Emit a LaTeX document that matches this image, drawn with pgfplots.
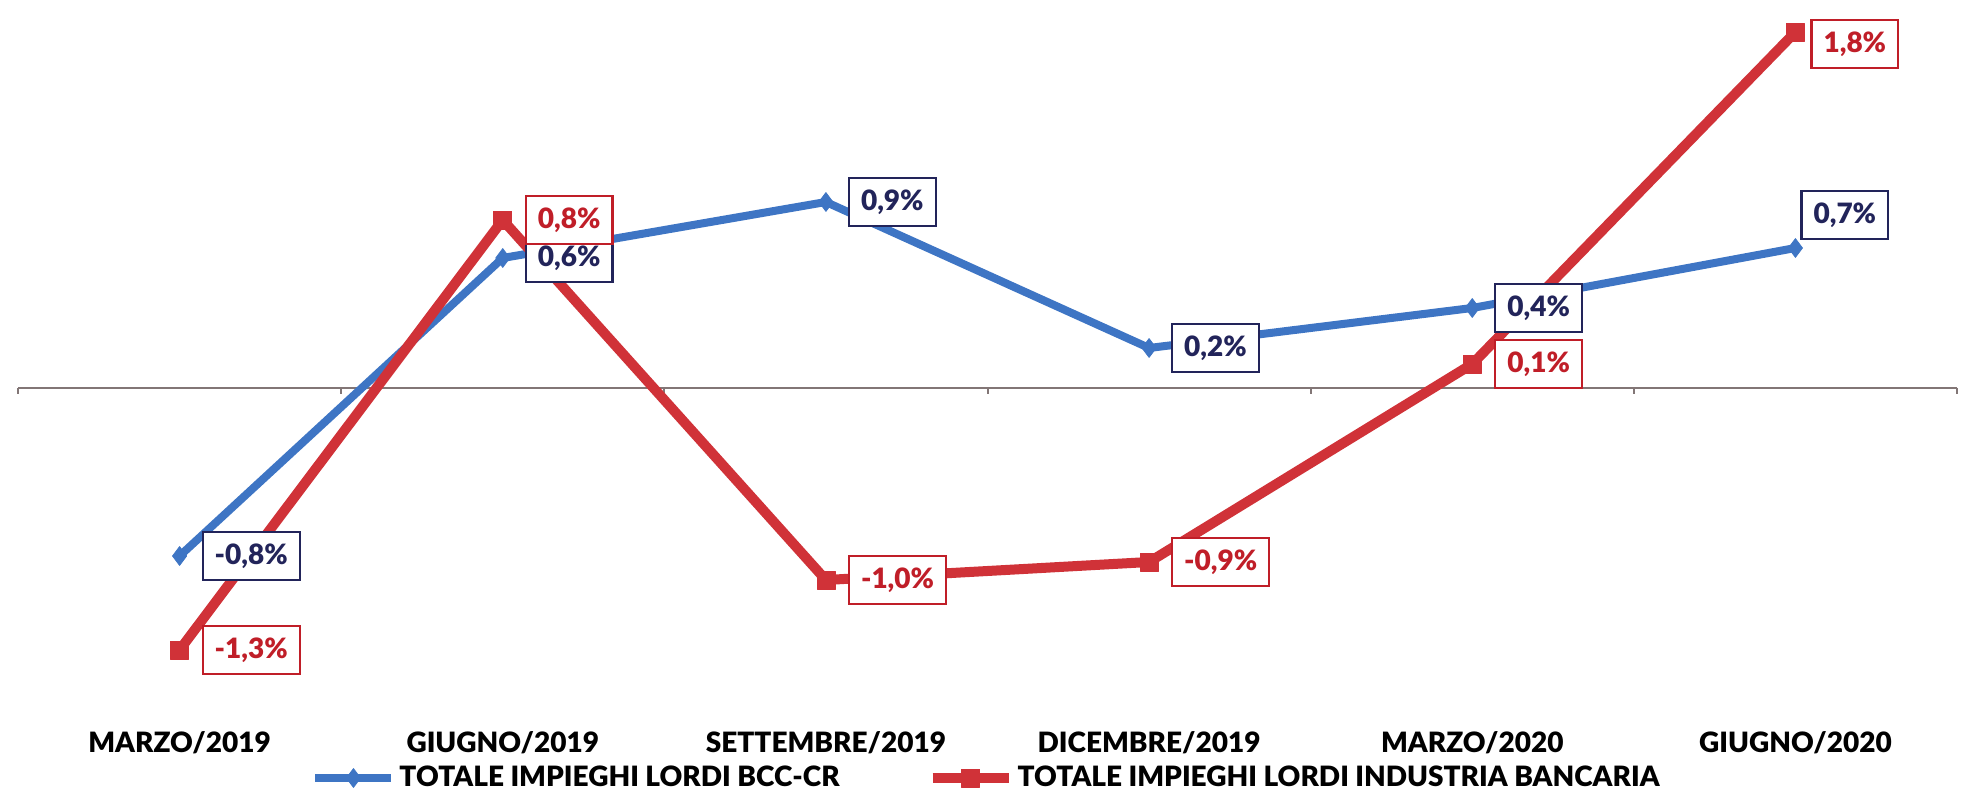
\documentclass[border=0pt]{standalone}
\usepackage{fontspec}
\setmainfont{Lato}[BoldFont={Lato Black}]
\usepackage{pgfplots}
\pgfplotsset{compat=1.18}
\definecolor{bccblue}{RGB}{62,117,196}
\definecolor{bankred}{RGB}{208,50,56}
\definecolor{navy}{RGB}{34,36,90}
\definecolor{darkred}{RGB}{192,30,40}
\definecolor{zeroline}{RGB}{130,118,118}
\newcommand{\lblfont}{\fontsize{14}{16}\selectfont\bfseries}
\begin{document}
\begin{tikzpicture}
\useasboundingbox (-9pt,-36pt) rectangle (975pt,360pt);
\begin{axis}[
  at={(0,0)}, anchor=south west,
  scale only axis, width=969.5pt, height=355pt,
  xmin=-0.5, xmax=5.5, ymin=-1.66, ymax=1.89,
  axis line style={draw=none},
  ytick=\empty,
  xtick={0,...,5},
  xticklabels={MARZO/2019,GIUGNO/2019,SETTEMBRE/2019,DICEMBRE/2019,MARZO/2020,GIUGNO/2020},
  major tick length=0pt,
  xticklabel style={font=\lblfont, inner sep=0pt, yshift=-5.5pt, anchor=north},
  clip=false,
  legend columns=2,
  legend style={at={(0.5,-0.0817)}, anchor=center, draw=none, fill=none,
    font=\lblfont, inner sep=0pt,
    /tikz/every even column/.append style={column sep=42pt}},
  legend image code/.code={
    \draw[mark repeat=2, mark phase=2] plot coordinates {(0pt,0pt) (19pt,0pt) (38pt,0pt)};},
]
\draw[zeroline, line width=1pt] (axis cs:-0.5,0) -- (axis cs:5.5,0);
\pgfplotsinvokeforeach{-0.5,0.5,1.5,2.5,3.5,4.5,5.5}{
  \draw[zeroline, line width=1pt] (axis cs:#1,0) -- ([yshift=-3pt]axis cs:#1,0);
}
\addplot[bccblue, line width=4pt, line join=round, mark=diamond*, mark size=4.7pt,
  mark options={solid, line width=0.4pt}]
  coordinates {(0,-0.84) (1,0.65) (2,0.93) (3,0.20) (4,0.40) (5,0.70)};
\addlegendentry{TOTALE IMPIEGHI LORDI BCC-CR}
\addplot[bankred, line width=5pt, line join=round, mark=square*, mark size=4.5pt,
  mark options={solid, line width=0.4pt}]
  coordinates {(0,-1.31) (1,0.84) (2,-0.96) (3,-0.87) (4,0.12) (5,1.78)};
\addlegendentry{TOTALE IMPIEGHI LORDI INDUSTRIA BANCARIA}

% data labels, blue series
\addplot[forget plot, draw=none, mark=none, point meta=explicit symbolic,
  nodes near coords,
  every node near coord/.style={anchor=west, xshift=11pt, draw=navy, line width=1.1pt,
    fill=white, text=navy, font=\lblfont, inner xsep=6pt, inner ysep=2pt, minimum height=24pt}]
  table[meta=label] {
x y label
0 -0.84 -0,8\%
1 0.65 0,6\%
2 0.93 0,9\%
3 0.20 0,2\%
4 0.40 0,4\%
};
\addplot[forget plot, draw=none, mark=none, point meta=explicit symbolic,
  nodes near coords,
  every node near coord/.style={anchor=south west, xshift=2.5pt, yshift=4pt, draw=navy, line width=1.1pt,
    fill=white, text=navy, font=\lblfont, inner xsep=6pt, inner ysep=2pt, minimum height=24pt}]
  table[meta=label] {
x y label
5 0.70 0,7\%
};
% data labels, red series
\addplot[forget plot, draw=none, mark=none, point meta=explicit symbolic,
  nodes near coords,
  every node near coord/.style={anchor=west, xshift=11pt, draw=darkred, line width=1.1pt,
    fill=white, text=darkred, font=\lblfont, inner xsep=6pt, inner ysep=2pt, minimum height=24pt}]
  table[meta=label] {
x y label
0 -1.31 -1,3\%
1 0.84 0,8\%
2 -0.96 -1,0\%
3 -0.87 -0,9\%
4 0.12 0,1\%
};
\addplot[forget plot, draw=none, mark=none, point meta=explicit symbolic,
  nodes near coords,
  every node near coord/.style={anchor=west, xshift=7.5pt, yshift=-6pt, draw=darkred, line width=1.1pt,
    fill=white, text=darkred, font=\lblfont, inner xsep=6pt, inner ysep=2pt, minimum height=24pt}]
  table[meta=label] {
x y label
5 1.78 1,8\%
};
\end{axis}
\end{tikzpicture}
\end{document}
